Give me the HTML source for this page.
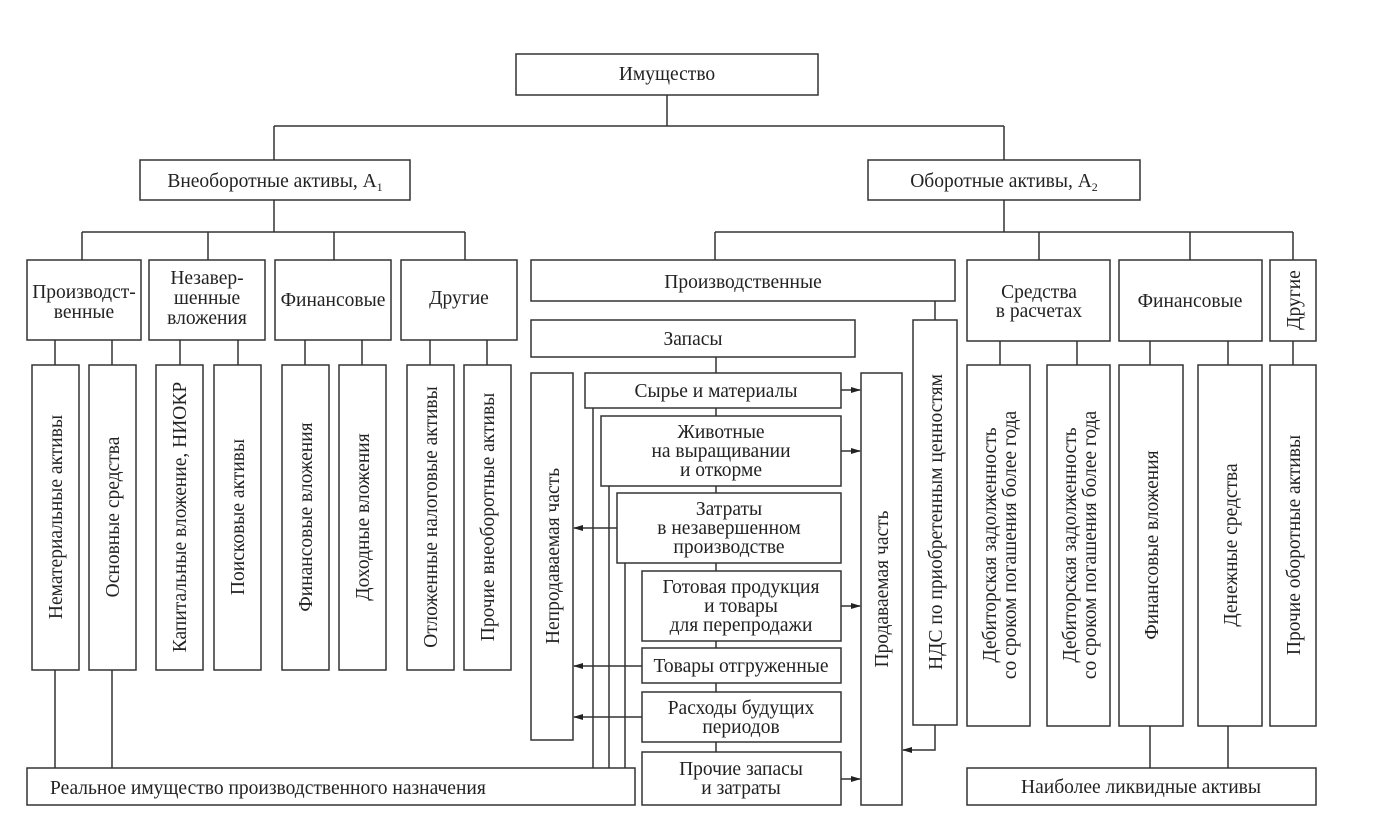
<!DOCTYPE html>
<html><head><meta charset="utf-8"><style>
html,body{margin:0;padding:0;background:#fff}
svg{display:block}
text{font-family:"Liberation Serif",serif;font-size:19.5px;fill:#222}
</style></head><body>
<svg width="1386" height="814" viewBox="0 0 1386 814" xmlns="http://www.w3.org/2000/svg">
<defs><marker id="a" markerWidth="10" markerHeight="8" refX="9" refY="4" orient="auto" markerUnits="userSpaceOnUse"><path d="M0,1 L10,4 L0,7 Z" fill="#222"/></marker></defs>
<g fill="none" stroke="#333" stroke-width="1.5">
<rect x="516" y="54" width="302" height="41"/>
<path d="M667 95V126M274 126H1004M274 126V160M1004 126V160"/>
<rect x="140" y="160" width="270" height="40"/>
<rect x="868" y="160" width="272" height="40"/>
<path d="M274 200V232M82 232H465M82 232V260M208 232V260M334 232V260M465 232V260"/>
<rect x="27" y="260" width="114" height="80"/>
<rect x="149" y="260" width="116" height="80"/>
<rect x="275" y="260" width="116" height="80"/>
<rect x="401" y="260" width="116" height="80"/>
<path d="M55 340V365M112 340V365M180 340V365M238 340V365M305 340V365M362 340V365M430 340V365M487 340V365"/>
<rect x="32" y="365" width="47" height="305"/>
<rect x="89" y="365" width="47" height="305"/>
<rect x="156" y="365" width="47" height="305"/>
<rect x="214" y="365" width="47" height="305"/>
<rect x="282" y="365" width="47" height="305"/>
<rect x="339" y="365" width="47" height="305"/>
<rect x="407" y="365" width="47" height="305"/>
<rect x="464" y="365" width="47" height="305"/>
<path d="M55 670V768M112 670V768"/>
<rect x="27" y="768" width="608" height="37"/>
<path d="M1004 200V232M715 232H1293M715 232V260M1039 232V260M1190 232V260M1293 232V260"/>
<rect x="531" y="260" width="424" height="41"/>
<rect x="967" y="260" width="143" height="81"/>
<rect x="1119" y="260" width="143" height="81"/>
<rect x="1270" y="260" width="46" height="81"/>
<path d="M1000 341V365M1077 341V365M1150 341V365M1228 341V365M1293 341V365"/>
<rect x="967" y="365" width="63" height="361"/>
<rect x="1047" y="365" width="63" height="361"/>
<rect x="1119" y="365" width="64" height="361"/>
<rect x="1198" y="365" width="64" height="361"/>
<rect x="1270" y="365" width="46" height="361"/>
<path d="M1150 726V768M1228 726V768"/>
<rect x="967" y="768" width="349" height="37"/>
<path d="M935 301V320"/>
<rect x="913" y="320" width="44" height="405"/>
<rect x="531" y="320" width="324" height="37"/>
<rect x="531" y="373" width="42" height="367"/>
<rect x="585" y="373" width="256" height="35"/>
<rect x="601" y="416" width="240" height="70"/>
<rect x="617" y="493" width="224" height="70"/>
<rect x="642" y="571" width="199" height="70"/>
<rect x="642" y="648" width="199" height="35"/>
<rect x="642" y="692" width="199" height="50"/>
<rect x="642" y="752" width="199" height="53"/>
<rect x="861" y="373" width="41" height="432"/>
<path d="M716 357V373M716 408V416M716 486V493M716 563V571M716 641V648M716 683V692M716 742V752"/>
<path d="M593 408V768M609 486V768M625 563V768"/>
<path d="M841 390H860" marker-end="url(#a)"/>
<path d="M841 451H860" marker-end="url(#a)"/>
<path d="M841 606H860" marker-end="url(#a)"/>
<path d="M841 779H860" marker-end="url(#a)"/>
<path d="M617 528H574" marker-end="url(#a)"/>
<path d="M642 666H574" marker-end="url(#a)"/>
<path d="M642 717H574" marker-end="url(#a)"/>
<path d="M935 725V750H903" marker-end="url(#a)"/>
</g>
<g text-anchor="middle">
<text x="667" y="80">Имущество</text>
<text x="275" y="187">Внеоборотные активы, А<tspan font-size="12" dy="4">1</tspan></text>
<text x="1004" y="187">Оборотные активы, А<tspan font-size="12" dy="4">2</tspan></text>
<text x="84" y="298">Производст-</text><text x="84" y="318">венные</text>
<text x="207" y="284">Незавер-</text><text x="207" y="304">шенные</text><text x="207" y="324">вложения</text>
<text x="333" y="306">Финансовые</text>
<text x="459" y="304">Другие</text>
<text x="743" y="288">Производственные</text>
<text x="1039" y="298">Средства</text><text x="1039" y="317">в расчетах</text>
<text x="1190" y="307">Финансовые</text>
<text x="693" y="345">Запасы</text>
<text x="716" y="397">Сырье и материалы</text>
<text x="721" y="438">Животные</text><text x="721" y="457">на выращивании</text><text x="721" y="476">и откорме</text>
<text x="729" y="515">Затраты</text><text x="729" y="534">в незавершенном</text><text x="729" y="553">производстве</text>
<text x="741" y="593">Готовая продукция</text><text x="741" y="612">и товары</text><text x="741" y="631">для перепродажи</text>
<text x="741" y="672">Товары отгруженные</text>
<text x="741" y="714">Расходы будущих</text><text x="741" y="733">периодов</text>
<text x="741" y="775">Прочие запасы</text><text x="741" y="794">и затраты</text>
<text x="50" y="794" text-anchor="start">Реальное имущество производственного назначения</text>
<text x="1141" y="793">Наиболее ликвидные активы</text>
<text transform="translate(62,517) rotate(-90)">Нематериальные активы</text>
<text transform="translate(119,517) rotate(-90)">Основные средства</text>
<text transform="translate(186,517) rotate(-90)">Капитальные вложение, НИОКР</text>
<text transform="translate(244,517) rotate(-90)">Поисковые активы</text>
<text transform="translate(312,517) rotate(-90)">Финансовые вложения</text>
<text transform="translate(369,517) rotate(-90)">Доходные вложения</text>
<text transform="translate(437,517) rotate(-90)">Отложенные налоговые активы</text>
<text transform="translate(494,517) rotate(-90)">Прочие внеоборотные активы</text>
<text transform="translate(559,556) rotate(-90)">Непродаваемая часть</text>
<text transform="translate(888,589) rotate(-90)">Продаваемая часть</text>
<text transform="translate(942,522) rotate(-90)">НДС по приобретенным ценностям</text>
<text transform="translate(996,545) rotate(-90)">Дебиторская задолженность</text>
<text transform="translate(1016,545) rotate(-90)">со сроком погашения более года</text>
<text transform="translate(1076,545) rotate(-90)">Дебиторская задолженность</text>
<text transform="translate(1096,545) rotate(-90)">со сроком погашения более года</text>
<text transform="translate(1158,545) rotate(-90)">Финансовые вложения</text>
<text transform="translate(1237,545) rotate(-90)">Денежные средства</text>
<text transform="translate(1300,545) rotate(-90)">Прочие оборотные активы</text>
<text transform="translate(1300,300) rotate(-90)">Другие</text>
</g>
</svg>
</body></html>
